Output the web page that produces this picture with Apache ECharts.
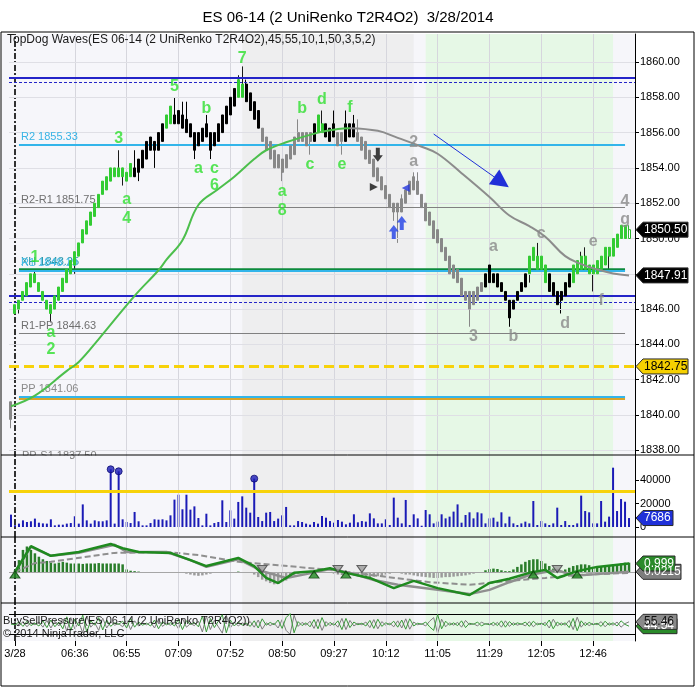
<!DOCTYPE html>
<html>
<head>
<meta charset="utf-8">
<title>ES 06-14 (2 UniRenko T2R4O2)</title>
<script src="https://cdn.jsdelivr.net/npm/echarts@6/dist/echarts.min.js"></script>
<style>
  html, body { margin: 0; padding: 0; background: #fff; }
  #chart { width: 696px; height: 687px; }
</style>
</head>
<body>
<div id="chart"></div>
<script>
// ---- data ----
const barTop = [1840.75,1846.25,1846.5,1847,1847.5,1848,1848,1847.5,1847,1846.5,
  1846.25,1846.75,1847.25,1847.75,1848.25,1848.75,1849.25,1849.75,1850.5,1851,
  1851.5,1852,1852.5,1853.25,1853.5,1854,1854,1854,1854,1853.75,
  1854.25,1854,1854.5,1855,1855.5,1855.75,1855.5,1856,1856.5,1857,
  1857.5,1857,1857.25,1857,1856.75,1856.5,1856,1856,1856.25,1856.5,
  1856,1856,1856.5,1857,1857.5,1858,1858.5,1859,1858.75,1858.75,
  1858.25,1857.75,1857.25,1856.25,1855.75,1855.5,1855,1854.75,1854.5,1854.75,
  1855.25,1855.75,1856,1856,1856,1856,1856.5,1857,1856.5,1856.5,
  1856.25,1856.5,1856,1856,1856.5,1856.5,1856.5,1856,1855.75,1855.5,
  1855,1854.5,1854,1853.5,1853,1852.5,1852,1852,1852.25,1852.75,
  1853.25,1853.5,1853.25,1852.5,1852,1851.5,1851,1850.5,1850,1849.5,
  1849,1848.5,1848.25,1847.75,1847,1847,1847,1847.25,1847.5,1848,
  1848.5,1848,1848,1847.5,1847,1846.5,1846.5,1847,1847.5,1848,
  1849,1849.5,1849,1849,1848.5,1848,1847.5,1847,1847,1847.5,
  1848,1848.5,1848.75,1849,1849,1848.5,1848.5,1848.75,1849,1849.5,
  1849.5,1850,1850.25,1850.75,1850.75,1850.5];
const barBot = [1839.75,1845.75,1846,1846.5,1846.75,1847.25,1847.5,1847,1846.5,1846,
  1845.75,1846,1846.5,1847,1847.5,1848,1848.5,1849,1849.75,1850.25,
  1850.75,1851.25,1851.75,1852.5,1852.75,1853.25,1853.5,1853.5,1853.5,1853.25,
  1853.5,1853.5,1853.75,1854,1854.5,1855,1855,1855,1855.5,1856.25,
  1856.5,1856.5,1856.5,1856.25,1856,1855.75,1855,1855.25,1855.5,1855.75,
  1855,1855.25,1855.5,1856,1856.5,1857,1857.5,1858,1858,1857.75,
  1857.25,1856.75,1856.25,1855.5,1855,1854.5,1854,1854,1853.75,1854,
  1854.5,1854.75,1855.5,1855.5,1855.25,1855.5,1855.5,1856,1856,1855.75,
  1855.5,1855.75,1855.25,1855.5,1855.5,1855.75,1855.75,1855.5,1855,1854.5,
  1854.25,1853.5,1853.25,1852.75,1852.25,1851.75,1851.5,1851.5,1851.5,1852,
  1852.5,1852.75,1852.5,1851.75,1851,1850.75,1850,1849.75,1849.25,1848.75,
  1848,1847.75,1847.5,1846.75,1846.5,1846,1846.25,1846.5,1847,1847.25,
  1847.5,1847.5,1847.25,1847,1846.5,1845.5,1846,1846.5,1847,1847.25,
  1848,1848.75,1848.25,1848.25,1847.5,1847,1846.75,1846.25,1846.5,1846.75,
  1847.25,1847.5,1848,1848.25,1848.25,1848,1848,1848,1848.25,1848.5,
  1849,1849,1849.5,1850,1850,1850];
const wickHi = {6:1848.25, 27:1855, 31:1855, 41:1858, 43:1857.75, 44:1857.75, 49:1857,
  57:1859.25, 58:1859.75, 59:1859, 72:1856.75, 78:1857.25, 81:1857.25, 84:1857.25,
  86:1857, 87:1856.75, 98:1852.5, 101:1853.75, 102:1853.75, 120:1849, 132:1849.75,
  143:1849.25, 144:1849.5, 155:1850.75};
const wickLo = {0:1839.25, 2:1845.75, 10:1845.25, 16:1848, 28:1853, 29:1852.75, 32:1853.25,
  36:1854, 46:1854.5, 50:1854.5, 68:1853.25, 75:1854.75, 83:1854.75, 96:1851, 97:1849.75,
  115:1845, 125:1845, 130:1847.5, 138:1845.75, 146:1847, 150:1848.25};
// G green, K black, S grey, H hollow
const barColors = 'S' +
  'GGGGGGGGGG' + 'GGGGGGGGGG' + 'GGGGGGGGGG' +
  'KKKKKKKK' + 'GG' +
  'KKKKKKKKKK' + 'KKKKKK' +
  'GG' + 'KKKK' +
  'SSSSSSSSSS' + 'SSS' +
  'K' + 'GG' + 'KKK' + 'SS' + 'KKK' +
  'SSSSSSSSSS' + 'SSSSSSSSSS' + 'SSSSSSSSSS' + 'SS' +
  'KKKKKKKKKK' + 'K' +
  'GGGGG' + 'KKKKKK' +
  'GGGGGGGGGG' + 'GGGG' +
  'H';

const volume = [10600,1500,2900,5700,4300,4900,7200,3700,3100,2900,
  6600,1400,2000,2000,2900,3400,9200,2900,19400,5700,
  2900,5700,4900,4900,5700,49500,2900,47800,6600,4300,
  3400,12900,4900,1400,1400,3400,6600,6300,6600,5700,
  10000,23500,27700,15200,27700,14900,17700,7700,1400,11400,
  1400,3400,4300,22900,4300,14300,7200,21500,26300,16600,
  12300,41500,8600,5100,12300,12900,5100,7200,10000,17200,
  1400,1400,5100,4300,2900,2000,4300,2900,9400,8000,
  5100,3700,6000,4600,2300,3700,10900,4000,5100,4600,
  11700,7400,3100,3100,6600,1700,25200,8000,3100,23200,
  1700,10900,7400,1100,14600,10900,3100,4600,10900,7400,
  8900,13200,19400,3700,10300,12600,7400,12600,11700,3100,
  7400,8000,4600,12600,3100,8900,3100,1700,3100,4600,
  3100,22300,1700,5100,3100,1700,3100,16600,1700,5100,
  1700,1700,3100,26900,13700,12600,3100,3100,22300,4600,
  8900,50900,13700,24000,21700,7686];
const volDots = [[25, 49500], [27, 47800], [61, 41500]];
const volAlert = 31000;

const smaUp = [[0,1840.5],[6,1841.1],[14,1842.5],[17,1843.0],[22,1844.3],[31,1846.75],[37,1848.2],
  [39,1848.8],[43,1849.9],[47,1851.9],[52,1852.8],[56,1853.5],[61,1854.5],[64,1855.0],
  [69,1855.45],[77,1856.0],[82,1856.2],[85,1856.25]];
const smaDown = [[85,1856.25],[92,1856.1],[97,1855.7],[103,1855.2],[107,1854.8],[113,1853.7],
  [120,1852.35],[125,1851.3],[130,1850.7],[134,1850.1],[139,1849.0],[143,1848.55],
  [147,1848.25],[151,1848.02],[155,1847.91]];

const blueLevels = [1859.09, 1846.74];
const blueDashLevels = [1858.87, 1846.36];
const yellowLevel = 1842.75;
const pivotNames = ['R2', 'R2-R1', 'R1', 'R1-PP', 'PP'];
const pivotValues = [1855.33, 1851.75, 1848.19, 1844.63, 1841.06];
const pivotBelowName = 'PP-S1';
const pivotBelow = 1837.50;
const xhLevel = 1848.25;
const ppBase = 1840.95;
const pivotSpan = [2, 154];

const waveGreen = [[6,1848.9,'1'],[10,1844.65,'a'],[10,1843.7,'2'],[27,1855.65,'3'],[29,1852.2,'a'],
  [29,1851.15,'4'],[41,1858.6,'5'],[49,1857.35,'b'],[47,1853.95,'a'],[51,1853.95,'c'],
  [51,1852.97,'6'],[58,1860.17,'7'],[68,1852.63,'a'],[68,1851.56,'8'],[73,1857.34,'b'],
  [78,1857.85,'d'],[85,1857.4,'f'],[75,1854.16,'c'],[83,1854.16,'e']];
const waveGrey = [[101,1855.41,'2'],[101,1854.33,'a'],[121,1849.52,'a'],[133,1850.25,'c'],
  [146,1849.8,'e'],[116,1844.42,'3'],[126,1844.42,'b'],[139,1845.2,'d'],[148,1846.5,'f'],
  [154,1852.07,'4'],[154,1851.05,'g']];
const trendArrow = [[106, 1855.92], [123, 1853.2]];
const sellArrow = [[92, 1854.75]];
const sellFlag = [[91, 1852.92]];
const buyFlag = [[99, 1852.86]];
const buyArrows = [[96, 1850.37], [98, 1850.88]];

const hist = [0,0.2,1.4,2.6,3.0,2.6,2.2,1.8,1.5,1.3,
  1.1,1.0,1.1,1.2,1.1,1.0,1.0,1.0,0.95,1.0,
  1.0,1.0,1.05,1.0,1.0,1.0,1.0,1.0,0.9,0.3,
  0.15,0.1,0.05,0,0,-0.1,-0.1,-0.05,0,0,
  0,0,-0.1,-0.05,-0.2,-0.3,-0.4,-0.45,-0.4,-0.3,
  -0.2,-0.1,-0.05,0,0,0,0,0.05,0,0,
  -0.1,-0.3,-0.6,-0.9,-1.1,-1.3,-1.45,-1.4,-1.2,-1.0,
  -0.7,-0.4,-0.2,-0.1,0,0,0,0,0,0,
  -0.1,-0.2,-0.3,-0.35,-0.2,-0.3,-0.4,-0.5,-0.55,-0.6,
  -0.6,-0.55,-0.5,-0.45,-0.3,-0.2,-0.1,-0.1,-0.2,-0.3,
  -0.3,-0.4,-0.5,-0.55,-0.6,-0.65,-0.7,-0.7,-0.65,-0.6,
  -0.6,-0.55,-0.5,-0.45,-0.4,-0.3,-0.2,-0.1,0,0.2,
  0.35,0.4,0.35,0.2,0.1,0.1,0.3,0.6,0.9,1.2,
  1.4,1.5,1.5,1.3,1.0,0.7,0.4,0.2,0.1,0.3,
  0.5,0.7,0.8,0.9,0.9,0.8,0.6,0.5,0.6,0.7,
  0.8,0.9,0.9,1.0,1.1,1.1];
const oscFast = [[1,0],[5,3.05],[10,1.9],[17,2.35],[25,3.3],[28,2.8],[32,2.35],[40,2.25],[45,1.4],
  [49,0.7],[54,1.3],[57,1.65],[61,0.7],[64,-0.7],[67,-1.3],[71,-0.1],[76,0.1],[80,0.45],
  [84,-0.1],[90,-0.7],[96,-1.9],[101,-1.05],[107,-1.9],[115,-2.7],[120,-1.3],[125,-0.8],
  [130,-0.1],[134,0.25],[137,-0.7],[142,0.1],[147,0.6],[155,0.999]];
const oscSlow = [[1,0],[5,2.95],[10,1.9],[17,2.25],[26,3.2],[29,2.35],[39,2.35],[45,1.4],[49,0.6],
  [57,1.5],[63,0.1],[69,-0.7],[74,-0.25],[80,0.35],[85,-0.1],[91,-0.95],[97,-1.5],[107,-2.1],
  [115,-2.6],[120,-2.1],[125,-1.2],[130,-0.35],[137,0.25],[141,-0.45],[147,-0.25],[155,0.0215]];
const oscAvg = [[1,0],[6,1.05],[10,1.2],[26,2.25],[39,2.35],[47,2.0],[57,1.2],[67,0.8],[80,0.25],
  [92,-0.45],[105,-1.2],[115,-1.5],[125,-1.05],[134,-0.7],[142,-0.35],[155,-0.1]];
const oscUp = [[1,-0.3],[76,-0.3],[84,-0.3],[131,-0.3],[142,-0.3]];
const oscDown = [[63,0.35],[82,0.35],[88,0.35],[137,0.35]];

const buyPressure = [50,48,55,44,57,46,52,45,58,41,
  60,43,55,38,68,34,62,45,72,30,
  58,47,66,35,60,44,53,49,57,40,
  64,42,55,47,52,45,60,38,56,48,
  53,45,62,36,58,49,54,43,70,30,
  64,41,57,73,28,60,45,55,47,52,
  44,58,40,63,47,54,48,60,39,66,
  76,28,56,46,53,43,61,38,66,44,
  54,47,58,36,64,41,55,48,52,45,
  59,39,62,44,53,48,57,42,60,37,
  63,45,52,49,55,43,34,74,38,57,
  47,53,46,58,41,52,49,55,45,51,
  48,54,46,58,42,56,47,53,49,55,
  44,57,48,52,46,60,38,55,47,53,
  41,64,33,58,46,54,48,52,44,57,
  47,53,45,58,49,44.54];
const sellPressure = [50,52,45,56,43,54,48,55,42,59,
  40,57,45,62,32,66,38,55,28,70,
  42,53,34,65,40,56,47,51,43,60,
  36,58,45,53,48,55,40,62,44,52,
  47,55,38,64,42,51,46,57,30,70,
  36,59,43,27,72,40,55,45,53,48,
  56,42,60,37,53,46,52,40,61,34,
  24,72,44,54,47,57,39,62,34,56,
  46,53,42,64,36,59,45,52,48,55,
  41,61,38,56,47,52,43,58,40,63,
  37,55,48,51,45,57,66,26,62,43,
  53,47,54,42,59,48,51,45,55,49,
  52,46,54,42,58,44,53,47,51,45,
  56,43,52,48,54,40,62,45,53,47,
  59,36,67,42,54,46,52,48,56,43,
  53,47,55,42,51,55.46];
const bspBox = [75, 25];

const sessionIdx = 1;
const tickIdx = [1, 16, 29, 42, 55, 68, 81, 94, 107, 120, 133, 146];
const tickLabels = ['3/28', '06:36', '06:55', '07:09', '07:52', '08:50', '09:27', '10:12', '11:05', '11:29', '12:05', '12:46'];
const priceTicks = [1838, 1840, 1842, 1844, 1846, 1848, 1850, 1852, 1854, 1856, 1858, 1860];
const volTicks = [0, 20000, 40000];
const shadeGrey = [58, 101];
const shadeGreen = [104, 151];

// ---- layout ----
const FONT = 'Liberation Sans, Arial, sans-serif';
const PLOT_L = 9, PLOT_R = 635;
const PANELS = [[34, 455], [455, 537], [537, 603], [603, 641]];
const BG = '#f6f6fa';

const chart = echarts.init(document.getElementById('chart'));
const nBars = barTop.length;
const cats = [];
for (let i = 0; i <= nBars; i++) cats.push(String(i)); // one spare slot on the right
const empty = cats.map(() => '-');

const BODY = { G: '#33cc33', K: '#000000', S: '#888888', H: '#ffffff' };
const EDGE = { G: '#33cc33', K: '#000000', S: '#888888', H: '#2fb52f' };
const WICK = { G: '#1a1a1a', K: '#000000', S: '#888888', H: '#2fb52f' };

const bodyData = barTop.map((top, i) => {
  const c = barColors[i];
  return {
    value: [barBot[i], top, barBot[i], top],
    itemStyle: { color: BODY[c], color0: BODY[c], borderColor: EDGE[c], borderColor0: EDGE[c], borderColorDoji: EDGE[c], borderWidth: 1 }
  };
});
const wickData = barTop.map((top, i) => {
  const hi = wickHi[i], lo = wickLo[i];
  if (hi === undefined && lo === undefined) return '-';
  const c = barColors[i];
  const mid = (top + barBot[i]) / 2;
  return {
    value: [mid, mid, lo === undefined ? barBot[i] : lo, hi === undefined ? top : hi],
    itemStyle: { color: WICK[c], color0: WICK[c], borderColor: WICK[c], borderColor0: WICK[c], borderColorDoji: WICK[c], borderWidth: 1 }
  };
});

function xAxisFor(g) {
  const last = g === PANELS.length - 1;
  return {
    type: 'category', gridIndex: g, data: cats, boundaryGap: true,
    axisLine: { show: false },
    axisTick: { show: last, alignWithLabel: true, length: 5, interval: (i) => tickIdx.includes(i), lineStyle: { color: '#000' } },
    axisLabel: {
      show: last, interval: (i) => tickIdx.includes(i), margin: 7,
      formatter: (v, i) => tickLabels[tickIdx.indexOf(Number(v))] || '',
      color: '#000', fontSize: 11, fontFamily: FONT
    },
    splitLine: { show: false }
  };
}

function rightAxis(g, min, max, ticks, fmt) {
  return {
    type: 'value', gridIndex: g, position: 'right', min, max, scale: true,
    axisLine: { show: true, lineStyle: { color: '#000', width: 1 } },
    axisTick: ticks ? { show: true, length: 4, customValues: ticks, lineStyle: { color: '#000' } } : { show: false },
    axisLabel: ticks ? { show: true, customValues: ticks, formatter: fmt, color: '#000', fontSize: 11, fontFamily: FONT, margin: 5 } : { show: false },
    splitLine: { show: false }
  };
}

function shading(g) {
  return {
    type: 'line', xAxisIndex: g, yAxisIndex: g, data: empty, z: 0, silent: true, symbol: 'none',
    markArea: {
      silent: true,
      data: [
        [{ xAxis: shadeGrey[0], itemStyle: { color: '#eeeeef' } }, { xAxis: shadeGrey[1] }],
        [{ xAxis: shadeGreen[0], itemStyle: { color: '#e6f8e6' } }, { xAxis: shadeGreen[1] }]
      ]
    }
  };
}

function gridLines(g, extra) {
  const lines = tickIdx.filter(i => i !== sessionIdx).map(i => ({ xAxis: i, lineStyle: { color: '#d6d6dd', width: 1, type: 'solid' } }));
  lines.push({ xAxis: sessionIdx, lineStyle: { color: '#000', width: 1.6, type: [6, 2, 2, 2] } });
  return {
    type: 'line', xAxisIndex: g, yAxisIndex: g, data: empty, z: 1, silent: true, symbol: 'none',
    markLine: { silent: true, symbol: ['none', 'none'], label: { show: false }, data: lines.concat(extra || []) }
  };
}

const lbl = (text, color) => ({ show: true, position: 'insideStartTop', formatter: text, color, fontSize: 11, fontFamily: FONT, distance: 2 });
function span(value, color, width, label) {
  return [
    { coord: [pivotSpan[0], value], lineStyle: { color, width, type: 'solid' }, label: label || { show: false } },
    { coord: [pivotSpan[1], value] }
  ];
}
const pivotColor = ['#33b5ea', '#808080', '#33b5ea', '#808080', '#33b5ea'];
const pivotText = ['#38b4e6', '#6f6f6f', '#45bde8', '#6f6f6f', '#8a8a8a'];
const pivotWidth = [2, 1, 2, 1, 2];

const levelLines = [];
blueLevels.forEach(v => levelLines.push({ yAxis: v, lineStyle: { color: '#2424c8', width: 2, type: 'solid' } }));
blueDashLevels.forEach(v => levelLines.push({ yAxis: v, lineStyle: { color: '#2424c8', width: 1, type: [3, 2] } }));
levelLines.push({ yAxis: yellowLevel, lineStyle: { color: '#f7d20a', width: 3, type: [10, 5] } });
levelLines.push(span(ppBase, '#d8a42a', 3));
levelLines.push(span(xhLevel, '#0c8a3c', 3.5, lbl('XH ' + xhLevel.toFixed(2), '#2b97a8')));
pivotNames.forEach((n, k) => {
  levelLines.push(span(pivotValues[k], pivotColor[k], pivotWidth[k], lbl(n + ' ' + pivotValues[k].toFixed(2), pivotText[k])));
});

const waveLabel = (color) => ({ show: true, position: 'inside', formatter: (p) => p.value[2], color, fontSize: 16, fontWeight: 'bold', fontFamily: FONT });
const ARROW_DOWN = 'path://M3,0 L7,0 L7,7 L10,7 L5,13 L0,7 L3,7 Z';
const ARROW_UP = 'path://M5,0 L10,6 L7,6 L7,13 L3,13 L3,6 L0,6 Z';

const option = {
  animation: false,
  backgroundColor: '#ffffff',
  title: {
    text: 'ES 06-14 (2 UniRenko T2R4O2)  3/28/2014', left: 'center', top: 5,
    textStyle: { fontSize: 15, fontWeight: 'normal', color: '#000', fontFamily: FONT }
  },
  grid: PANELS.map(([t, b]) => ({ left: PLOT_L, width: PLOT_R - PLOT_L, top: t, height: b - t, show: true, backgroundColor: BG, borderWidth: 0 })),
  xAxis: PANELS.map((p, g) => xAxisFor(g)),
  yAxis: [
    rightAxis(0, 1837.734, 1861.586, priceTicks, v => v.toFixed(2)),
    rightAxis(1, -8580, 61776, volTicks, v => String(v)),
    rightAxis(2, -3.647, 4.118, null),
    rightAxis(3, 7.5, 102.5, null)
  ],
  series: [
    shading(0), shading(1), shading(2), shading(3),
    gridLines(0, priceTicks.map(v => ({ yAxis: v, lineStyle: { color: '#dfdfe5', width: 1, type: 'solid' } }))),
    gridLines(1),
    gridLines(2, [{ yAxis: 0, lineStyle: { color: '#a6a6a6', width: 1, type: 'solid' } }]),
    gridLines(3, bspBox.map(v => ({ yAxis: v, lineStyle: { color: '#000', width: 1, type: 'solid' } }))),
    {
      type: 'line', xAxisIndex: 0, yAxisIndex: 0, data: empty, z: 3, silent: true, symbol: 'none',
      markLine: { silent: true, symbol: ['none', 'none'], label: { show: false }, data: levelLines }
    },
    { type: 'candlestick', xAxisIndex: 0, yAxisIndex: 0, barWidth: 2.5, data: wickData, z: 4 },
    { type: 'candlestick', xAxisIndex: 0, yAxisIndex: 0, barWidth: 2.5, data: bodyData, z: 5 },
    { type: 'line', xAxisIndex: 0, yAxisIndex: 0, data: smaUp, smooth: 0.4, symbol: 'none', z: 6, lineStyle: { color: '#4cbf4c', width: 2 } },
    { type: 'line', xAxisIndex: 0, yAxisIndex: 0, data: smaDown, smooth: 0.4, symbol: 'none', z: 6, lineStyle: { color: '#8c8c8c', width: 2 } },
    { type: 'scatter', xAxisIndex: 0, yAxisIndex: 0, data: waveGreen, symbolSize: 1, itemStyle: { color: 'rgba(0,0,0,0)' }, label: waveLabel('#2ee02e'), z: 7 },
    { type: 'scatter', xAxisIndex: 0, yAxisIndex: 0, data: waveGrey, symbolSize: 1, itemStyle: { color: 'rgba(0,0,0,0)' }, label: waveLabel('#8a8a8a'), z: 7 },
    { type: 'scatter', xAxisIndex: 0, yAxisIndex: 0, data: sellArrow, symbol: ARROW_DOWN, symbolSize: [10, 14], itemStyle: { color: '#111' }, z: 8 },
    { type: 'scatter', xAxisIndex: 0, yAxisIndex: 0, data: sellFlag, symbol: 'triangle', symbolRotate: -90, symbolSize: 8, itemStyle: { color: '#111' }, z: 8 },
    { type: 'scatter', xAxisIndex: 0, yAxisIndex: 0, data: buyFlag, symbol: 'triangle', symbolRotate: 90, symbolSize: 8, itemStyle: { color: '#2233dd' }, z: 8 },
    { type: 'scatter', xAxisIndex: 0, yAxisIndex: 0, data: buyArrows, symbol: ARROW_UP, symbolSize: [10, 14], itemStyle: { color: '#1f3fe6' }, z: 8 },
    {
      type: 'line', xAxisIndex: 0, yAxisIndex: 0, data: empty, z: 8, silent: true, symbol: 'none',
      markLine: {
        silent: true, symbol: ['none', 'triangle'], symbolSize: 18, label: { show: false },
        lineStyle: { color: '#2030d8', width: 1, type: 'solid' },
        data: [[{ coord: trendArrow[0] }, { coord: trendArrow[1] }]]
      }
    },
    // volume
    {
      type: 'bar', xAxisIndex: 1, yAxisIndex: 1, data: volume, barWidth: 2, z: 4, itemStyle: { color: '#1b1bb6' },
      markLine: { silent: true, symbol: ['none', 'none'], label: { show: false }, data: [{ yAxis: volAlert, lineStyle: { color: '#f7d20a', width: 3, type: 'solid' } }] }
    },
    { type: 'scatter', xAxisIndex: 1, yAxisIndex: 1, data: volDots, symbolSize: 7, z: 5, itemStyle: { color: '#1b1bb6', borderColor: '#0c0c70', borderWidth: 1 } },
    // oscillator
    {
      type: 'bar', xAxisIndex: 2, yAxisIndex: 2, barWidth: 2.5, z: 3,
      data: hist.map(v => ({ value: v, itemStyle: { color: v >= 0 ? '#2a7d2a' : '#9b9b9b' } }))
    },
    { type: 'line', xAxisIndex: 2, yAxisIndex: 2, data: oscAvg, symbol: 'none', z: 4, lineStyle: { color: '#8f8f8f', width: 2, type: [6, 3] } },
    { type: 'line', xAxisIndex: 2, yAxisIndex: 2, data: oscSlow, symbol: 'none', z: 5, lineStyle: { color: '#8f8f8f', width: 2.5 } },
    { type: 'line', xAxisIndex: 2, yAxisIndex: 2, data: oscFast, symbol: 'none', z: 6, lineStyle: { color: '#1f8a1f', width: 2.5 } },
    { type: 'scatter', xAxisIndex: 2, yAxisIndex: 2, data: oscUp, symbol: 'triangle', symbolSize: [10, 7], z: 7, itemStyle: { color: '#1f8a1f', borderColor: '#0b3d0b', borderWidth: 1 } },
    { type: 'scatter', xAxisIndex: 2, yAxisIndex: 2, data: oscDown, symbol: 'triangle', symbolRotate: 180, symbolSize: [10, 7], z: 7, itemStyle: { color: '#9a9a9a', borderColor: '#444', borderWidth: 1 } },
    // buy / sell pressure
    { type: 'line', xAxisIndex: 3, yAxisIndex: 3, data: sellPressure, symbol: 'none', z: 4, lineStyle: { color: '#7d7d7d', width: 1 } },
    { type: 'line', xAxisIndex: 3, yAxisIndex: 3, data: buyPressure, symbol: 'none', z: 5, lineStyle: { color: '#3c9a3c', width: 1 } }
  ]
};
chart.setOption(option);

// ---- frame, captions and value tags (positions through the chart's own scales) ----
const yPix = (ax, v) => chart.convertToPixel({ yAxisIndex: ax }, v);
const xPix = (i) => chart.convertToPixel({ xAxisIndex: 0 }, i);

function tag(ax, value, text, bg, fg, w) {
  const y = yPix(ax, value);
  const x0 = PLOT_R + 1;
  return [
    { type: 'polygon', z: 50, shape: { points: [[x0, y], [x0 + 7, y - 7.5], [x0 + 7 + w, y - 7.5], [x0 + 7 + w, y + 7.5], [x0 + 7, y + 7.5]] },
      style: { fill: bg, stroke: '#2a2a2a', lineWidth: 1 } },
    { type: 'text', z: 51, x: x0 + 8, y: y, style: { text, fill: fg, font: '12px ' + FONT, verticalAlign: 'middle', textVerticalAlign: 'middle' } }
  ];
}

const lastClose = 1850.50;
const ppsY = yPix(0, pivotBelow);
const ppsX = xPix(pivotSpan[0]) + 3;
const graphics = [
  { type: 'rect', z: 0, shape: { x: 2, y: PANELS[0][0], width: PLOT_L - 2, height: PANELS[3][1] - PANELS[0][0] }, style: { fill: BG } },
  { type: 'text', z: 8, x: ppsX, y: ppsY + 2, style: { text: pivotBelowName + ' ' + pivotBelow.toFixed(2), fill: '#808080', font: '11px ' + FONT, verticalAlign: 'bottom', textVerticalAlign: 'bottom' } },
  { type: 'rect', z: 9, shape: { x: ppsX - 2, y: PANELS[1][0] + 0.5, width: 72 - ppsX, height: 8 }, style: { fill: BG } },
  { type: 'rect', z: 9, shape: { x: 76, y: PANELS[1][0] + 0.5, width: 24, height: 8 }, style: { fill: BG } },
  { type: 'rect', z: 20, shape: { x: 1, y: 32, width: 693, height: 654 }, style: { fill: 'none', stroke: '#000', lineWidth: 1 } },
  { type: 'line', z: 20, shape: { x1: 1, y1: PANELS[1][0], x2: 694, y2: PANELS[1][0] }, style: { stroke: '#000', lineWidth: 1 } },
  { type: 'line', z: 20, shape: { x1: 1, y1: PANELS[2][0], x2: 694, y2: PANELS[2][0] }, style: { stroke: '#000', lineWidth: 1 } },
  { type: 'line', z: 20, shape: { x1: 1, y1: PANELS[3][0], x2: 694, y2: PANELS[3][0] }, style: { stroke: '#000', lineWidth: 1 } },
  { type: 'text', z: 21, x: 7, y: 40, style: { text: 'TopDog Waves(ES 06-14 (2 UniRenko T2R4O2),45,55,10,1,50,3,5,2)', fill: '#1a1a1a', font: '12px ' + FONT, verticalAlign: 'middle', textVerticalAlign: 'middle' } },
  { type: 'text', z: 21, x: 3, y: 621, style: { text: 'BuySellPressure(ES 06-14 (2 UniRenko T2R4O2))', fill: '#1a1a1a', font: '11px ' + FONT, verticalAlign: 'middle', textVerticalAlign: 'middle' } },
  { type: 'text', z: 21, x: 3, y: 634, style: { text: '\u00a9 2014 NinjaTrader, LLC', fill: '#1a1a1a', font: '11px ' + FONT, verticalAlign: 'middle', textVerticalAlign: 'middle' } }
].concat(
  tag(0, lastClose, lastClose.toFixed(2), '#000', '#fff', 45),
  tag(0, smaDown[smaDown.length - 1][1], smaDown[smaDown.length - 1][1].toFixed(2), '#000', '#fff', 45),
  tag(0, yellowLevel, yellowLevel.toFixed(2), '#f5d000', '#000', 45),
  tag(1, volume[volume.length - 1], String(volume[volume.length - 1]), '#1f30d8', '#fff', 30),
  tag(2, oscSlow[oscSlow.length - 1][1], String(oscSlow[oscSlow.length - 1][1]), '#7d7d7d', '#fff', 38),
  tag(2, oscFast[oscFast.length - 1][1], String(oscFast[oscFast.length - 1][1]), '#2a8a2a', '#fff', 32),
  tag(3, buyPressure[buyPressure.length - 1], buyPressure[buyPressure.length - 1].toFixed(2), '#2a8a2a', '#fff', 34),
  tag(3, sellPressure[sellPressure.length - 1], sellPressure[sellPressure.length - 1].toFixed(2), '#8a8a8a', '#111', 34)
);
chart.setOption({ graphic: graphics });
</script>
</body>
</html>
